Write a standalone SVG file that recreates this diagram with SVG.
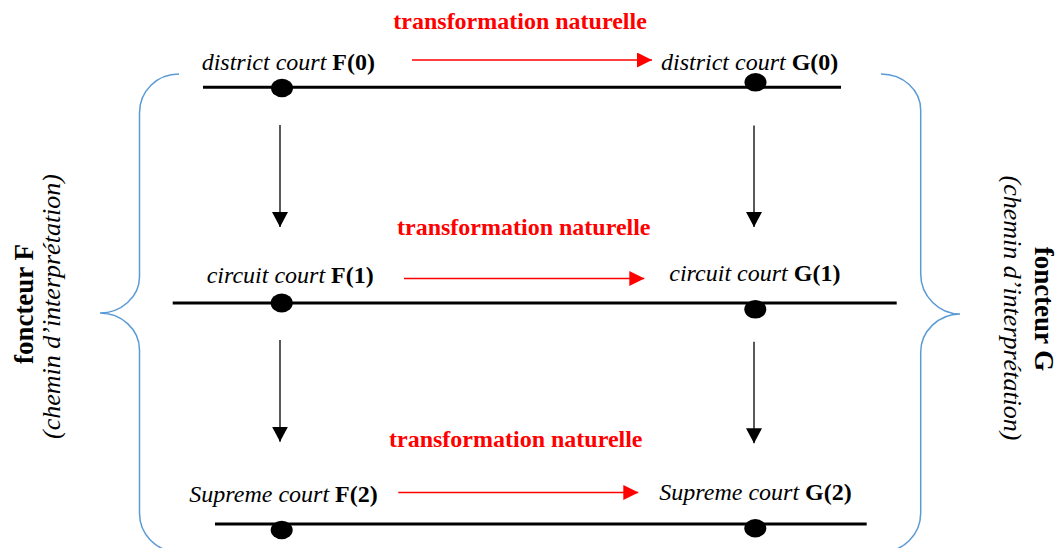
<svg xmlns="http://www.w3.org/2000/svg" width="1058" height="548" viewBox="0 0 1058 548">
<style>
text{font-family:"Liberation Serif","Times New Roman",serif;fill:#000}
.lbl{font-size:24px}
.it{font-style:italic}
.bd{font-weight:bold}
.title{font-size:24px;font-weight:bold;fill:#ff0000}
.axis{stroke:#000;stroke-width:3;fill:none}
.dot{fill:#000}
.nat{stroke:#ff0000;stroke-width:1.5;fill:none}
.fun{stroke:#000;stroke-width:1.3;fill:none}
.brace{stroke:#5b9bd5;stroke-width:1.5;fill:none}
.side-b{font-size:27px;font-weight:bold}
.side-i{font-size:26px;font-style:italic}
</style>
<defs>
<marker id="redHead" markerUnits="userSpaceOnUse" markerWidth="15" markerHeight="15" refX="15" refY="7.5" orient="auto">
<path d="M0,0 L15,7.5 L0,15 z" fill="#ff0000"/>
</marker>
<marker id="blackHead" markerUnits="userSpaceOnUse" markerWidth="15" markerHeight="16" refX="15" refY="8" orient="auto">
<path d="M0,0 L15,8 L0,16 z" fill="#000"/>
</marker>
</defs>
<rect width="1058" height="548" fill="#fff"/>

<g id="braces">
<path class="brace" d="M179,74 C157,74 139.5,91 139.5,113 L139.5,277 C139.5,297 121,313 100,313 C121,313 139.5,329 139.5,350 L139.5,513 C139.5,535 157,552 179,552"/>
<path class="brace" d="M881,74 C903,74 920.7,90 920.7,110 L920.7,274 C920.7,296 939,314 960,314 C939,314 920.7,331 920.7,352 L920.7,513 C920.7,535 903,552 881,552"/>
</g>

<g id="axes">
<line class="axis" x1="203" y1="87.3" x2="841" y2="87.3"/>
<line class="axis" x1="172.7" y1="303" x2="896.7" y2="303"/>
<line class="axis" x1="215" y1="524" x2="866.7" y2="524"/>
</g>

<g id="F0">
<text class="lbl" x="201.7" y="70"><tspan class="it">district court </tspan><tspan class="bd">F(0)</tspan></text>
<ellipse class="dot" cx="282" cy="88" rx="11" ry="9.3"/>
</g>
<g id="G0">
<text class="lbl" x="661" y="70"><tspan class="it">district court </tspan><tspan class="bd">G(0)</tspan></text>
<ellipse class="dot" cx="755.5" cy="82.3" rx="11" ry="9.3"/>
</g>
<g id="F1">
<text class="lbl" x="206.7" y="283"><tspan class="it">circuit court </tspan><tspan class="bd">F(1)</tspan></text>
<ellipse class="dot" cx="281.7" cy="303" rx="11" ry="9.5"/>
</g>
<g id="G1">
<text class="lbl" x="669.3" y="281"><tspan class="it">circuit court </tspan><tspan class="bd">G(1)</tspan></text>
<ellipse class="dot" cx="755.3" cy="309.3" rx="11" ry="9.3"/>
</g>
<g id="F2">
<text class="lbl" x="189.3" y="501.5"><tspan class="it">Supreme court </tspan><tspan class="bd">F(2)</tspan></text>
<ellipse class="dot" cx="281.7" cy="530" rx="11" ry="9.2"/>
</g>
<g id="G2">
<text class="lbl" x="659.3" y="500"><tspan class="it">Supreme court </tspan><tspan class="bd">G(2)</tspan></text>
<ellipse class="dot" cx="755.3" cy="528.3" rx="11" ry="9.2"/>
</g>

<g id="titles">
<text class="title" x="393.3" y="29">transformation naturelle</text>
<text class="title" x="397" y="235">transformation naturelle</text>
<text class="title" x="389" y="447">transformation naturelle</text>
</g>

<g id="functorF">
<text class="side-b" text-anchor="middle" transform="translate(33,304) rotate(-90)">foncteur F</text>
<text class="side-i" text-anchor="middle" transform="translate(60,306.5) rotate(-90)">(chemin d’interprétation)</text>
</g>
<g id="functorG">
<text class="side-b" text-anchor="middle" transform="translate(1035,309) rotate(90)">foncteur G</text>
<text class="side-i" text-anchor="middle" transform="translate(1004,308) rotate(90)">(chemin d’interprétation)</text>
</g>

<g id="connectors">
<line class="nat" x1="412" y1="60" x2="652" y2="60" marker-end="url(#redHead)"/>
<line class="nat" x1="404" y1="278.5" x2="644.3" y2="278.5" marker-end="url(#redHead)"/>
<line class="nat" x1="398.3" y1="492.5" x2="638.3" y2="492.5" marker-end="url(#redHead)"/>
<line class="fun" x1="280" y1="125" x2="280" y2="227" marker-end="url(#blackHead)"/>
<line class="fun" x1="754" y1="125.5" x2="754" y2="227" marker-end="url(#blackHead)"/>
<line class="fun" x1="280" y1="340" x2="280" y2="441.7" marker-end="url(#blackHead)"/>
<line class="fun" x1="754" y1="341.7" x2="754" y2="443.3" marker-end="url(#blackHead)"/>
</g>
</svg>
